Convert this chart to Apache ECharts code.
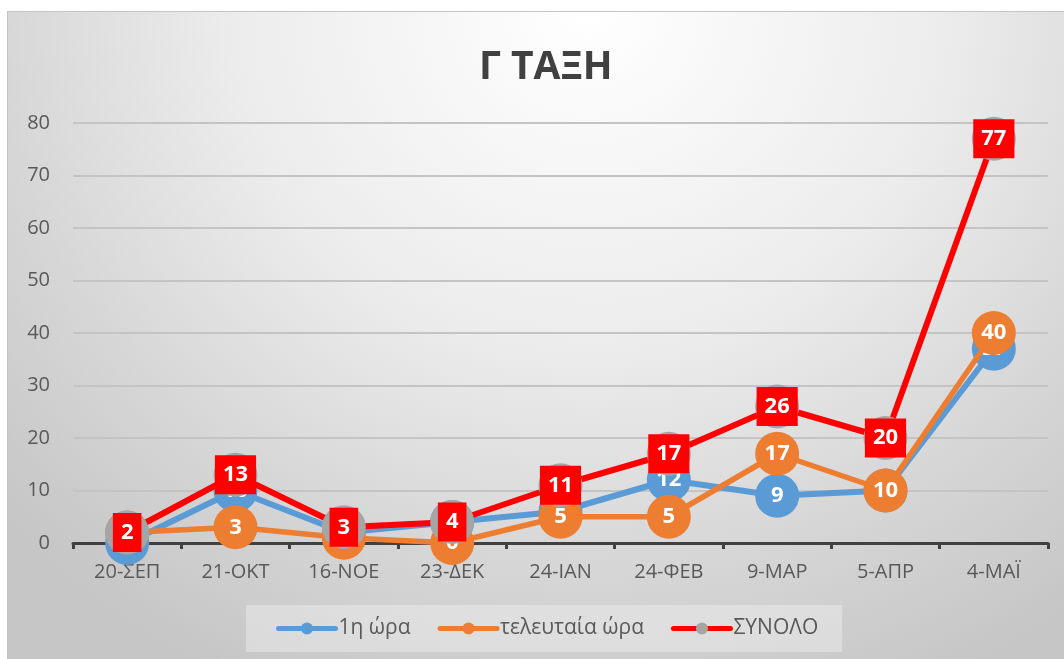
<!DOCTYPE html>
<html>
<head>
<meta charset="utf-8">
<script src="https://cdn.jsdelivr.net/npm/echarts@6/dist/echarts.min.js"></script>
<style>
  html, body { margin: 0; padding: 0; background: #fff; }
  #chart {
    position: absolute; left: 7px; top: 11px; width: 1057px; height: 648px;
    border-top: 1px solid #c4c4c4; border-left: 1px solid #c4c4c4; box-sizing: border-box;
    background: radial-gradient(ellipse 75% 115% at 55% 0%, #ffffff 0%, #ececec 45%, #d6d6d6 75%, #c6c6c6 100%);
  }
</style>
</head>
<body>
<div id="chart"></div>
<script>
// δεδομένα
const categories = ['20-ΣΕΠ', '21-ΟΚΤ', '16-ΝΟΕ', '23-ΔΕΚ', '24-ΙΑΝ', '24-ΦΕΒ', '9-ΜΑΡ', '5-ΑΠΡ', '4-ΜΑΪ'];
const firstHour = [0, 10, 2, 4, 6, 12, 9, 10, 37];
const lastHour = [2, 3, 1, 0, 5, 5, 17, 10, 40];
const total = [2, 13, 3, 4, 11, 17, 26, 20, 77];
const seriesNames = ['1η ώρα', 'τελευταία ώρα', 'ΣΥΝΟΛΟ'];

const FONT = '"Open Sans", "DejaVu Sans", sans-serif';
const chart = echarts.init(document.getElementById('chart'), null, { renderer: 'canvas' });

const whiteLabel = {
    show: true,
    position: 'inside',
    color: '#fff',
    fontWeight: 'bold',
    fontSize: 22,
    fontFamily: FONT
};

const option = {
    backgroundColor: 'transparent',
    animation: false,
    title: {
        text: 'Γ ΤΑΞΗ',
        left: 466,
        top: 31,
        textStyle: { fontFamily: FONT, fontWeight: 'bold', fontSize: 39, color: '#404040' }
    },
    legend: {
        data: seriesNames,
        left: 238,
        top: 593,
        itemWidth: 57,
        itemHeight: 15,
        itemGap: 27,
        padding: [13, 24, 13, 30],
        backgroundColor: 'rgba(240,240,240,0.45)',
        lineStyle: { width: 5, cap: 'round' },
        textStyle: { fontFamily: FONT, fontSize: 21, color: '#595959', padding: [0, 0, 0, -2] }
    },
    grid: { left: 65, right: 16, top: 111, bottom: 116 },
    xAxis: {
        type: 'category',
        data: categories,
        boundaryGap: true,
        axisLine: { lineStyle: { color: '#404040', width: 3 } },
        axisTick: { show: true, length: 6, lineStyle: { color: '#404040', width: 3 } },
        axisLabel: { fontFamily: FONT, fontSize: 20, color: '#595959', margin: 19 }
    },
    yAxis: {
        type: 'value',
        min: 0,
        max: 80,
        interval: 10,
        axisLine: { show: false },
        axisTick: { show: false },
        axisLabel: { fontFamily: FONT, fontSize: 20, color: '#595959', margin: 23 },
        splitLine: { lineStyle: { color: '#c4c4c4', width: 2 } }
    },
    series: [
        {
            name: seriesNames[0],
            type: 'line',
            data: firstHour,
            z: 2,
            symbol: 'circle',
            symbolSize: 44,
            lineStyle: { color: '#5b9bd5', width: 6 },
            itemStyle: { color: '#5b9bd5' },
            label: whiteLabel
        },
        {
            name: seriesNames[1],
            type: 'line',
            data: lastHour,
            z: 3,
            symbol: 'circle',
            symbolSize: 44,
            lineStyle: { color: '#ed7d31', width: 5.5 },
            itemStyle: { color: '#ed7d31' },
            label: whiteLabel
        },
        {
            name: seriesNames[2],
            type: 'line',
            data: total,
            z: 4,
            symbol: 'circle',
            symbolSize: 44,
            lineStyle: { color: '#ff0000', width: 6 },
            itemStyle: { color: '#a5a5a5' },
            label: Object.assign({}, whiteLabel, {
                backgroundColor: '#ff0000',
                padding: [9, 8, 8, 8]
            })
        }
    ]
};

chart.setOption(option);
</script>
</body>
</html>
